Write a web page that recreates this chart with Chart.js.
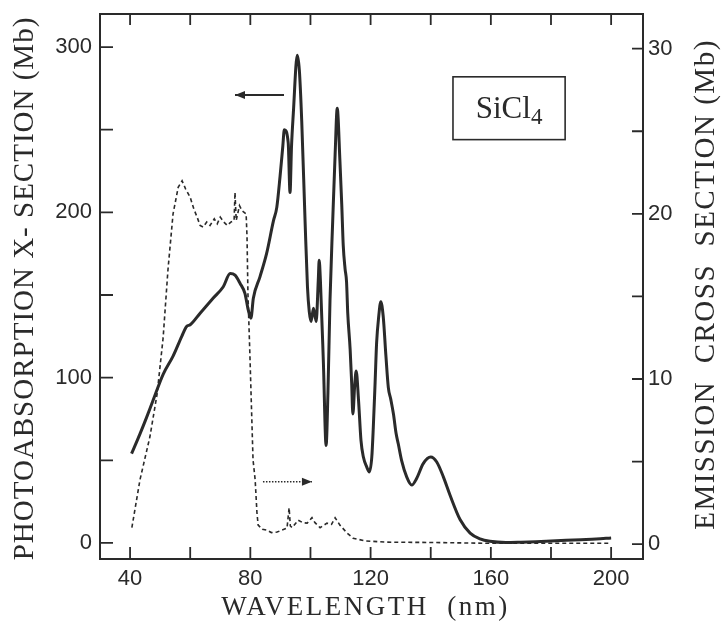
<!DOCTYPE html>
<html lang="en">
<head>
  <meta charset="UTF-8" />
  <title>SiCl4 photoabsorption and emission cross sections</title>
  <script src="https://cdn.jsdelivr.net/npm/chart.js"></script>
  <style>
    html, body { margin: 0; padding: 0; background: #fff; }
    #wrap { width: 725px; height: 621px; }
  </style>
</head>
<body>
  <div id="wrap"><canvas id="chart" width="725" height="621"></canvas></div>
  <script>
    // photoabsorption cross section, left axis (Mb), solid line
    const absWavelength = [
      40.5, 43.3, 45.5, 47.6, 51.0, 54.3, 57.2, 58.8, 60.0, 63.3,
      67.6, 71.0, 73.3, 74.9, 76.6, 78.2, 79.3, 80.2, 81.0, 83.2,
      85.4, 87.7, 88.8, 89.9, 90.8, 91.3, 92.6, 93.2, 93.7, 94.3,
      95.6, 96.3, 97.1, 98.2, 99.0, 99.6, 100.2, 101.0, 101.9, 102.6,
      102.9, 103.3, 104.3, 105.2, 105.8, 106.5, 107.4, 108.2, 108.9, 109.8,
      110.4, 110.9, 111.5, 112.0, 112.4, 113.2, 113.7, 114.1, 114.7, 115.2,
      116.0, 116.8, 117.6, 118.7, 119.6, 120.4, 120.9, 121.5, 122.0, 122.7,
      123.4, 124.2, 125.1, 125.9, 126.7, 127.6, 128.5, 129.2, 130.3, 132.0,
      133.7, 135.3, 137.5, 140.0, 142.0, 144.2, 146.4, 149.8, 153.1, 156.4,
      159.7, 165, 170, 175, 180, 185, 190, 195, 200
    ];
    const absSection = [
      54, 66, 76, 86, 102, 113, 125, 131, 132, 139,
      148, 155, 163, 162, 157, 151, 141, 136, 148, 161,
      175, 195, 203, 222, 240, 250, 242, 212, 240, 260,
      295, 286, 255, 195, 155, 140, 134, 142, 134, 159,
      171, 159, 109, 59, 90, 147, 195, 235, 263, 231,
      205, 180, 166, 158, 139, 117, 97, 78, 95, 104,
      86, 62, 52, 46, 43, 52, 70, 97, 121, 137,
      146, 137, 113, 94, 87, 78, 66, 60, 50, 40,
      35, 39, 48, 52, 49, 40, 29, 14, 6, 2.5,
      1, 0.3, 0.5, 0.8, 1.2, 1.6, 2, 2.4, 3
    ];

    // emission cross section, right axis (Mb), dashed line
    const emWavelength = [
      40.6, 43.3, 46.6, 49.0, 51.0, 52.6, 54.3, 56.0, 57.3, 58.5,
      60.0, 61.2, 62.3, 63.3, 64.3, 65.5, 66.6, 68.0, 69.0, 70.0,
      71.2, 72.3, 73.5, 74.6, 74.9, 75.3, 76.4, 77.2, 78.6, 78.9,
      79.2, 79.9, 80.9, 81.6, 82.2, 82.6, 84.0, 85.5, 87.0, 88.9,
      90.5, 92.2, 92.9, 93.3, 93.9, 95.9, 97.5, 98.9, 100.5, 101.5,
      103.2, 105.5, 107.0, 108.2, 109.8, 112.2, 114.2, 118, 125, 140,
      160, 180, 200
    ];
    const emSection = [
      1.0, 3.9, 6.5, 9.1, 12.5, 16.6, 20.0, 21.6, 22.0, 21.5,
      21.0, 20.3, 19.8, 19.3, 19.2, 19.5, 19.3, 19.7, 19.4, 19.8,
      19.5, 19.3, 19.5, 19.6, 21.3, 19.6, 20.5, 20.2, 20.0, 18.6,
      15.2, 11.2, 5.1, 3.9, 1.9, 1.15, 0.9, 0.85, 0.7, 0.73,
      0.85, 0.97, 2.2, 1.1, 1.0, 1.45, 1.3, 1.27, 1.6, 1.3,
      1.0, 1.27, 1.2, 1.6, 1.15, 0.67, 0.36, 0.2, 0.12, 0.1,
      0.05, 0.05, 0.05
    ];

    // which ticks get a number
    const xLabelStep = 40;
    const leftLabelStep = 100;
    const rightLabelStep = 10;

    const xTitle = 'WAVELENGTH  (nm)';
    const leftTitle = 'PHOTOABSORPTION X- SECTION (Mb)';
    const rightTitle = 'EMISSION  CROSS  SECTION (Mb)';

    // annotations in data units (x in nm, y on left axis)
    const leftArrow = { from: [91.2, 271], to: [74.9, 271] };
    const rightArrow = { from: [84.2, 37], to: [100.5, 37] };
    const labelBox = { x0: 147.4, x1: 184.7, y0: 244, y1: 282 };

    const ink = '#2a2a2a';
    const serif = '"Liberation Serif", "DejaVu Serif", serif';
    const sans = '"Liberation Sans", Arial, sans-serif';

    function arrow(ctx, x1, y1, x2, y2, dash) {
      ctx.save();
      ctx.setLineDash(dash || []);
      ctx.beginPath();
      ctx.moveTo(x1, y1);
      ctx.lineTo(x2, y2);
      ctx.stroke();
      ctx.setLineDash([]);
      const dir = Math.sign(x2 - x1);
      ctx.beginPath();
      ctx.moveTo(x2, y2);
      ctx.lineTo(x2 - dir * 10, y2 - 4);
      ctx.lineTo(x2 - dir * 10, y2 + 4);
      ctx.closePath();
      ctx.fill();
      ctx.restore();
    }

    const framePlugin = {
      id: 'frame',
      afterDraw(chart) {
        const { ctx, chartArea: a, scales } = chart;
        const sx = scales.x, sy = scales.y, sy2 = scales.y2;
        ctx.save();
        ctx.strokeStyle = ink;
        ctx.fillStyle = ink;

        // box and inward ticks
        ctx.lineWidth = 2;
        ctx.strokeRect(a.left, a.top, a.right - a.left, a.bottom - a.top);
        ctx.lineWidth = 1.8;
        ctx.beginPath();
        sx.ticks.forEach(t => {
          const p = sx.getPixelForValue(t.value);
          ctx.moveTo(p, a.bottom); ctx.lineTo(p, a.bottom - 12);
          ctx.moveTo(p, a.top); ctx.lineTo(p, a.top + 11);
        });
        sy.ticks.forEach(t => {
          const p = sy.getPixelForValue(t.value);
          ctx.moveTo(a.left, p); ctx.lineTo(a.left + 13, p);
        });
        sy2.ticks.forEach(t => {
          const p = sy2.getPixelForValue(t.value);
          ctx.moveTo(a.right, p); ctx.lineTo(a.right - 11, p);
        });
        ctx.stroke();

        // arrows pointing to each curve's axis
        ctx.lineWidth = 1.8;
        arrow(ctx,
          sx.getPixelForValue(leftArrow.from[0]), sy.getPixelForValue(leftArrow.from[1]),
          sx.getPixelForValue(leftArrow.to[0]), sy.getPixelForValue(leftArrow.to[1]));
        ctx.lineWidth = 1.4;
        arrow(ctx,
          sx.getPixelForValue(rightArrow.from[0]), sy.getPixelForValue(rightArrow.from[1]),
          sx.getPixelForValue(rightArrow.to[0]), sy.getPixelForValue(rightArrow.to[1]), [1.5, 1.5]);

        // SiCl4 label
        const bx0 = sx.getPixelForValue(labelBox.x0), bx1 = sx.getPixelForValue(labelBox.x1);
        const by0 = sy.getPixelForValue(labelBox.y0), by1 = sy.getPixelForValue(labelBox.y1);
        ctx.lineWidth = 1.6;
        ctx.strokeRect(bx0, by1, bx1 - bx0, by0 - by1);
        ctx.textBaseline = 'alphabetic';
        ctx.textAlign = 'left';
        const main = 'SiCl';
        ctx.font = '31px ' + serif;
        const w1 = ctx.measureText(main).width;
        ctx.font = '23px ' + serif;
        const w2 = ctx.measureText('4').width;
        const tx = (bx0 + bx1) / 2 - (w1 + w2) / 2;
        const base = (by0 + by1) / 2 + 10;
        ctx.font = '31px ' + serif;
        ctx.fillText(main, tx, base);
        ctx.font = '23px ' + serif;
        ctx.fillText('4', tx + w1, base + 6);

        // axis titles
        ctx.textAlign = 'center';
        ctx.textBaseline = 'alphabetic';
        ctx.font = '27px ' + serif;
        ctx.letterSpacing = '2.5px';
        ctx.fillText(xTitle, (a.left + a.right) / 2 - 6, 615);

        ctx.font = '29px ' + serif;
        ctx.letterSpacing = '1px';
        ctx.save();
        ctx.translate(33, (a.top + a.bottom) / 2 + 2);
        ctx.rotate(-Math.PI / 2);
        ctx.fillText(leftTitle, 0, 0);
        ctx.restore();

        ctx.letterSpacing = '1.5px';
        ctx.save();
        ctx.translate(714, (a.top + a.bottom) / 2 - 2);
        ctx.rotate(-Math.PI / 2);
        ctx.fillText(rightTitle, 0, 0);
        ctx.restore();

        ctx.restore();
      }
    };

    const absPoints = absWavelength.map((x, i) => ({ x: x, y: absSection[i] }));
    const emPoints = emWavelength.map((x, i) => ({ x: x, y: emSection[i] }));

    const tickFont = { family: sans, size: 22 };

    // fixed box sizes so the plot area sits where it does in the figure
    function fitSide(width) {
      return s => { s.width = width; s.paddingTop = 0; s.paddingBottom = 0; };
    }

    new Chart(document.getElementById('chart'), {
      type: 'line',
      data: {
        datasets: [
          {
            label: 'Photoabsorption',
            data: absPoints,
            yAxisID: 'y',
            borderColor: ink,
            borderWidth: 3,
            pointRadius: 0,
            cubicInterpolationMode: 'monotone',
            fill: false
          },
          {
            label: 'Emission',
            data: emPoints,
            yAxisID: 'y2',
            borderColor: ink,
            borderWidth: 1.6,
            borderDash: [4, 3],
            pointRadius: 0,
            tension: 0,
            fill: false
          }
        ]
      },
      options: {
        responsive: false,
        animation: false,
        layout: { padding: { top: 14, left: 0, right: 0, bottom: 0 } },
        plugins: {
          legend: { display: false },
          tooltip: { enabled: false }
        },
        scales: {
          x: {
            type: 'linear',
            min: 30,
            max: 210.6,
            grid: { display: false, drawTicks: false },
            border: { display: false },
            ticks: {
              stepSize: 20,
              includeBounds: false,
              autoSkip: false,
              maxRotation: 0,
              padding: 7,
              color: ink,
              font: tickFont,
              callback: v => (v % xLabelStep === 0 ? v : '')
            },
            afterFit: s => { s.height = 62; s.paddingLeft = 0; s.paddingRight = 0; }
          },
          y: {
            position: 'left',
            min: -9.7,
            max: 320,
            grid: { display: false, drawTicks: false },
            border: { display: false },
            ticks: {
              stepSize: 50,
              includeBounds: false,
              autoSkip: false,
              padding: 8,
              color: ink,
              font: tickFont,
              callback: v => (v % leftLabelStep === 0 ? v : '')
            },
            afterFit: fitSide(100)
          },
          y2: {
            position: 'right',
            min: -0.9,
            max: 32.1,
            grid: { display: false, drawTicks: false },
            border: { display: false },
            ticks: {
              stepSize: 5,
              includeBounds: false,
              autoSkip: false,
              padding: 5,
              color: ink,
              font: tickFont,
              callback: v => (v % rightLabelStep === 0 ? v : '')
            },
            afterFit: fitSide(82)
          }
        }
      },
      plugins: [framePlugin]
    });
  </script>
</body>
</html>
